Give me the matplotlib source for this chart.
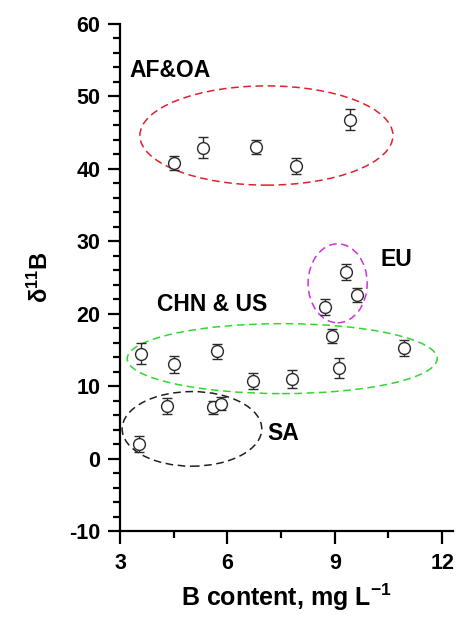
import numpy as np
import matplotlib
matplotlib.use('Agg')
import matplotlib.pyplot as plt
from matplotlib.patches import Ellipse
from matplotlib.ticker import MultipleLocator

plt.rcParams['font.family'] = ['Liberation Sans', 'DejaVu Sans']
plt.rcParams['mathtext.default'] = 'regular'
plt.rcParams['axes.unicode_minus'] = False

# B content (mg/L), delta 11B, error
x_afoa = [4.51, 5.31, 6.81, 7.92, 9.42]
y_afoa = [40.8, 42.9, 43.0, 40.4, 46.8]
e_afoa = [1.0, 1.45, 1.0, 1.15, 1.5]

x_eu = [9.32, 9.62, 8.73]
y_eu = [25.7, 22.6, 20.9]
e_eu = [1.1, 1.0, 1.1]

x_chn = [3.60, 4.51, 5.70, 6.71, 7.81, 8.92, 9.12, 10.92]
y_chn = [14.5, 13.0, 14.8, 10.7, 11.0, 16.9, 12.5, 15.3]
e_chn = [1.4, 1.2, 1.0, 1.1, 1.2, 1.0, 1.4, 1.1]

x_sa = [3.52, 4.30, 5.61, 5.81]
y_sa = [2.0, 7.3, 7.1, 7.6]
e_sa = [1.1, 1.1, 0.9, 0.9]

# group outlines: center x, center y, width, height, colour
groups = ['AF&OA', 'EU', 'CHN & US', 'SA']
ell_cx = [7.09, 9.08, 7.53, 5.01]
ell_cy = [44.6, 24.2, 13.8, 4.1]
ell_w = [7.07, 1.65, 8.66, 3.9]
ell_h = [13.7, 10.9, 9.66, 10.3]
ell_col = ['#e0202a', '#d030e0', '#30d830', '#202020']
lab_x = [4.39, 10.72, 5.58, 7.55]
lab_y = [53.6, 27.5, 21.25, 3.45]

fig = plt.figure(figsize=(4.63, 6.21), dpi=100)
ax = fig.add_axes([0.2592, 0.1449, 0.719, 0.8165])

for xs, ys, es in [(x_afoa, y_afoa, e_afoa), (x_eu, y_eu, e_eu),
                   (x_chn, y_chn, e_chn), (x_sa, y_sa, e_sa)]:
    ax.errorbar(xs, ys, yerr=es, fmt='o', mfc='white', mec='#2a2a2a',
                ecolor='#2a2a2a', ms=8.5, mew=1.0, elinewidth=1.0,
                capsize=3.6, capthick=1.0, zorder=3)

for i in range(len(groups)):
    e = Ellipse((ell_cx[i], ell_cy[i]), ell_w[i], ell_h[i], fill=False,
                edgecolor=ell_col[i], linestyle=(0, (5, 3)), lw=1.1,
                clip_on=False, zorder=2)
    ax.add_patch(e)
    ax.text(lab_x[i], lab_y[i], groups[i], fontsize=16.5, fontweight='bold',
            va='center', ha='center')

ax.set_xlim(3, 12.3)
ax.set_ylim(-10, 60)
ax.xaxis.set_major_locator(MultipleLocator(3))
ax.xaxis.set_minor_locator(MultipleLocator(1.5))
ax.yaxis.set_major_locator(MultipleLocator(10))
ax.yaxis.set_minor_locator(MultipleLocator(2))

for s in ['top', 'right']:
    ax.spines[s].set_visible(False)
for s in ['left', 'bottom']:
    ax.spines[s].set_linewidth(1.6)

ax.tick_params(which='major', direction='out', length=9, width=1.6,
               labelsize=15.5)
ax.tick_params(axis='y', which='major', pad=5)
ax.tick_params(axis='x', which='major', pad=7)
ax.tick_params(which='minor', direction='out', length=5, width=1.6)
for lab in ax.get_xticklabels() + ax.get_yticklabels():
    lab.set_fontweight('bold')

ax.set_xlabel('B content, mg L$^{-1}$', fontsize=18, fontweight='bold',
              labelpad=5)
ax.set_ylabel(r'$\delta^{11}$B', fontsize=17, fontweight='bold', labelpad=12)

fig.savefig('out.png', dpi=100)
